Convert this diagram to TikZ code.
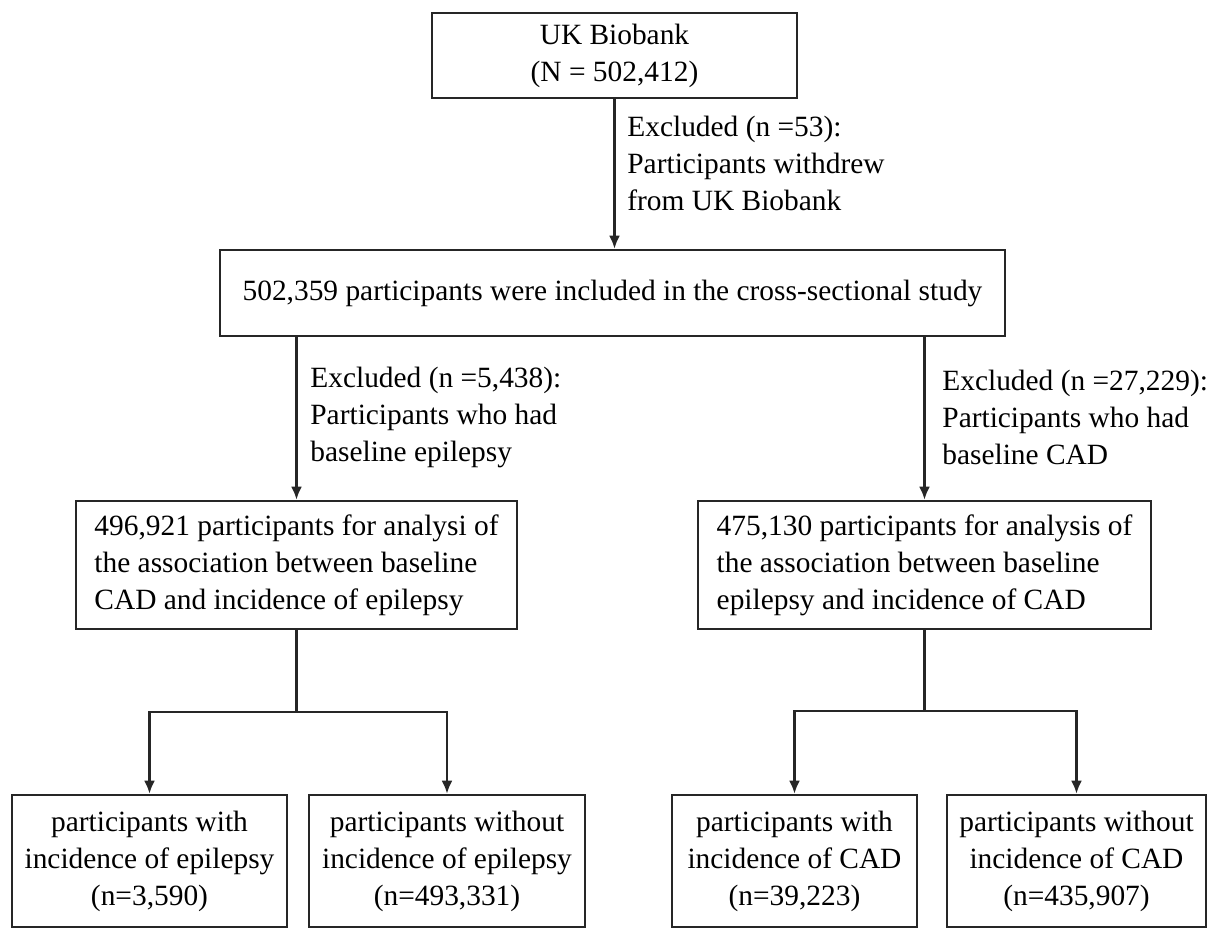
\documentclass[tikz,border=0pt]{standalone}
\usepackage{fontspec}
\setmainfont{Liberation Serif}
\usetikzlibrary{arrows.meta,shapes}

\begin{document}
\begin{tikzpicture}[x=0.5pt, y=-0.5pt, >={Latex[length=6.5pt,width=5.5pt]}]
    \tikzstyle{box}=[rectangle, draw=black!85, line width=1.3pt, inner sep=4pt, font=\fontsize{14.7}{18.5}\selectfont]
    \tikzstyle{note}=[anchor=west, inner sep=0pt, align=left, font=\fontsize{14.7}{18.5}\selectfont]
    \tikzstyle{link}=[draw=black!85, line width=1.1pt]
    \useasboundingbox (0,0) rectangle (1223,929);

    % cohort boxes
    \node[box, align=center, minimum width=182.5pt, minimum height=42.5pt] (bio) at (614.5,55.5) {UK Biobank\\(N = 502,412)};
    \node[box, minimum width=392.5pt, minimum height=43pt] (incl) at (612.5,293) {502,359 participants were included in the cross-sectional study};
    \node[box, align=left, minimum width=220.5pt, minimum height=64pt] (anaE) at (296.5,565) {496,921 participants for analysi of\\the association between baseline\\CAD and incidence of epilepsy};
    \node[box, align=left, minimum width=226.5pt, minimum height=64pt] (anaC) at (924.5,565) {475,130 participants for analysis of\\the association between baseline\\epilepsy and incidence of CAD};

    % outcome boxes
    \node[box, align=center, minimum width=137.5pt, minimum height=66pt] (withE) at (149.5,861) {participants with\\incidence of epilepsy\\(n=3,590)};
    \node[box, align=center, minimum width=138pt, minimum height=66pt] (noE) at (447,861) {participants without\\incidence of epilepsy\\(n=493,331)};
    \node[box, align=center, minimum width=122.5pt, minimum height=66pt] (withC) at (794.5,861) {participants with\\incidence of CAD\\(n=39,223)};
    \node[box, align=center, minimum width=129.5pt, minimum height=66pt] (noC) at (1076.5,861) {participants without\\incidence of CAD\\(n=435,907)};

    % exclusions
    \node[note] (exBio) at (627,163) {Excluded (n =53):\\Participants withdrew\\from UK Biobank};
    \node[note] (exE) at (310,417) {Excluded (n =5,438):\\Participants who had\\baseline epilepsy};
    \node[note] (exC) at (942,417) {Excluded (n =27,229):\\Participants who had\\baseline CAD};

    \draw[link,->] (bio) -- (incl.north -| bio);
    \draw[link,->] (incl.south -| anaE) -- (anaE);
    \draw[link,->] (incl.south -| anaC) -- (anaC);

    % splits
    \coordinate (jE) at (296.5,712);
    \coordinate (jC) at (924.5,711);
    \draw[link] (anaE) -- (jE);
    \draw[link] (anaC) -- (jC);
    \draw[link,->] (jE) -| (withE);
    \draw[link,->] (jE) -| (noE);
    \draw[link,->] (jC) -| (withC);
    \draw[link,->] (jC) -| (noC);
\end{tikzpicture}
\end{document}
